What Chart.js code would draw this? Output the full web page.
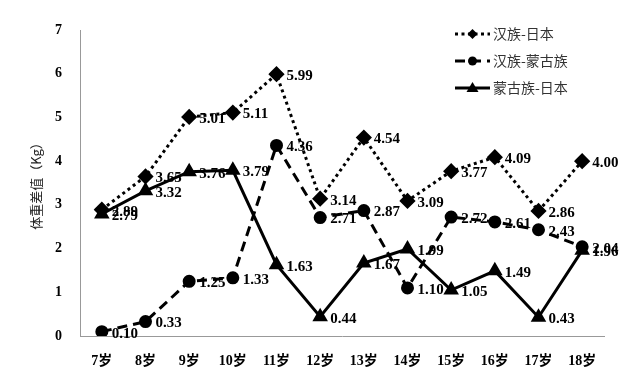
<!DOCTYPE html>
<html><head><meta charset="utf-8">
<script src="https://cdn.jsdelivr.net/npm/chart.js@4"></script>
<style>html,body{margin:0;padding:0;background:#fff}#wrap{width:635px;height:387px}</style>
</head><body><div id="wrap"><canvas id="c"></canvas></div>
<script>
const categories = ['7岁','8岁','9岁','10岁','11岁','12岁','13岁','14岁','15岁','16岁','17岁','18岁'];
const hanJapan = [2.89,3.65,5.01,5.11,5.99,3.14,4.54,3.09,3.77,4.09,2.86,4.00];
const hanMongol = [0.10,0.33,1.25,1.33,4.36,2.71,2.87,1.10,2.72,2.61,2.43,2.04];
const mongolJapan = [2.79,3.32,3.76,3.79,1.63,0.44,1.67,1.99,1.05,1.49,0.43,1.96];
const seriesNames = ['汉族-日本','汉族-蒙古族','蒙古族-日本'];
const yTicks = [0,1,2,3,4,5,6,7];
const yTitle = '体重差值（Kg）';

const labelFont = 'bold 15px "Liberation Serif", "Times New Roman", serif';

const labelPlugin = {
  id: 'labelsAndLegend',
  afterDatasetsDraw(chart) {
    const ctx = chart.ctx;
    ctx.save();
    ctx.font = labelFont;
    ctx.fillStyle = '#000';
    ctx.textAlign = 'left';
    ctx.textBaseline = 'middle';
    chart.data.datasets.forEach((ds, i) => {
      const meta = chart.getDatasetMeta(i);
      meta.data.forEach((pt, j) => {
        ctx.fillText(ds.data[j].toFixed(2), pt.x + 10, pt.y + 2);
      });
    });
    // y title
    ctx.save();
    ctx.translate(36, 183);
    ctx.rotate(-Math.PI / 2);
    ctx.textAlign = 'center';
    ctx.font = '13px "Noto Sans CJK SC", sans-serif';
    ctx.fillStyle = '#222';
    ctx.fillText(yTitle, 0, 0);
    ctx.restore();
    // legend
    const lx0 = 455, lx1 = 490, ys = [34, 61, 88];
    chart.data.datasets.forEach((ds, i) => {
      const y = ys[i];
      ctx.save();
      ctx.strokeStyle = '#000';
      ctx.lineWidth = 3;
      ctx.setLineDash(ds.borderDash || []);
      ctx.beginPath(); ctx.moveTo(lx0, y); ctx.lineTo(lx1, y); ctx.stroke();
      ctx.restore();
      ctx.save();
      ctx.fillStyle = '#000';
      const cx = (lx0 + lx1) / 2;
      if (ds.pointStyle === 'rectRot') {
        ctx.beginPath(); ctx.moveTo(cx, y - 5); ctx.lineTo(cx + 5, y); ctx.lineTo(cx, y + 5); ctx.lineTo(cx - 5, y); ctx.closePath(); ctx.fill();
      } else if (ds.pointStyle === 'circle') {
        ctx.beginPath(); ctx.arc(cx, y, 4.5, 0, Math.PI * 2); ctx.fill();
      } else {
        ctx.beginPath(); ctx.moveTo(cx, y - 6); ctx.lineTo(cx + 6, y + 4); ctx.lineTo(cx - 6, y + 4); ctx.closePath(); ctx.fill();
      }
      ctx.restore();
      ctx.font = '14px "Noto Sans CJK SC", sans-serif';
      ctx.fillStyle = '#333';
      ctx.textAlign = 'left';
      ctx.fillText(ds.label, lx1 + 3, y);
    });
    ctx.restore();
  }
};

new Chart(document.getElementById('c'), {
  type: 'line',
  data: {
    labels: categories,
    datasets: [
      { label: seriesNames[0], data: hanJapan, borderColor: '#000', backgroundColor: '#000', borderWidth: 3, borderDash: [3, 3.5], pointStyle: 'rectRot', pointRadius: 6, pointHoverRadius: 6, tension: 0 },
      { label: seriesNames[1], data: hanMongol, borderColor: '#000', backgroundColor: '#000', borderWidth: 3, borderDash: [10, 6], pointStyle: 'circle', pointRadius: 5, pointHoverRadius: 5, tension: 0 },
      { label: seriesNames[2], data: mongolJapan, borderColor: '#000', backgroundColor: '#000', borderWidth: 3, pointStyle: 'triangle', pointRadius: 6, pointHoverRadius: 6, tension: 0 }
    ]
  },
  options: {
    responsive: true,
    maintainAspectRatio: false,
    animation: false,
    layout: { padding: { top: 30, right: 31, left: 0, bottom: 0 } },
    plugins: { legend: { display: false }, tooltip: { enabled: false } },
    scales: {
      x: {
        offset: true,
        grid: { display: true, color: 'rgba(0,0,0,0)', drawTicks: false },
        border: { display: true, color: '#999', width: 1 },
        ticks: { color: '#000', font: { family: '"Liberation Serif", "Noto Sans CJK SC", serif', size: 14, weight: 'bold' }, padding: 17, maxRotation: 0, autoSkip: false },
        afterFit(s) { s.height = 51; }
      },
      y: {
        min: 0, max: 7,
        afterBuildTicks(s) { s.ticks = yTicks.map(v => ({ value: v })); },
        grid: { display: true, color: 'rgba(0,0,0,0)', drawTicks: false },
        border: { display: true, color: '#999', width: 1 },
        ticks: { color: '#000', font: { family: '"Liberation Serif", serif', size: 14, weight: 'bold' }, padding: 18 },
        afterFit(s) { s.width = 80; }
      }
    }
  },
  plugins: [labelPlugin]
});
</script>
</body></html>
